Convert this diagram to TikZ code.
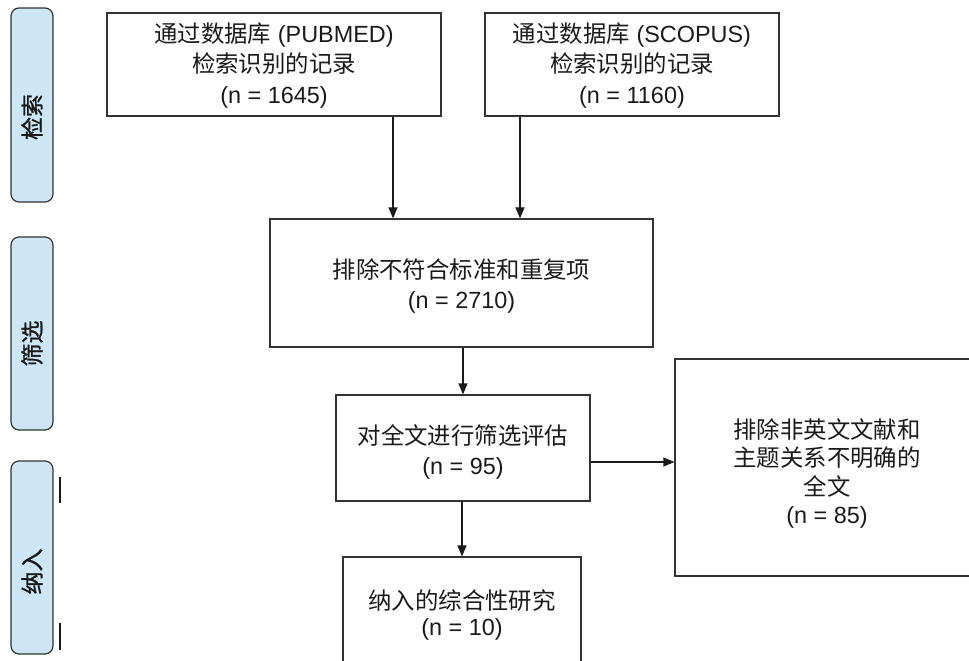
\documentclass[tikz,border=0pt]{standalone}
\usepackage{fontspec}
\setmainfont{Liberation Sans}
\newfontfamily\cjk{Noto Sans CJK SC}
\newfontfamily\cjkheavy[FakeBold=1.2]{Noto Sans CJK SC}
\usetikzlibrary{arrows.meta}
\newcommand\zh[1]{{\cjk #1}}
\definecolor{boxline}{HTML}{333333}
\definecolor{stagefill}{HTML}{CCE6F5}
\definecolor{txt}{HTML}{1A1A1A}

\begin{document}
\begin{tikzpicture}[x=1bp,y=-1bp,
  box/.style={draw=boxline, line width=1.2bp, inner sep=0pt},
  boxtext/.style={align=center, text=txt, inner sep=0pt,
    font=\fontsize{23.5}{30.5}\selectfont},
  stage/.style={draw=boxline, fill=stagefill, line width=1.2bp, rounded corners=8bp,
    rotate=90, minimum height=42bp, inner sep=0pt},
  stagetext/.style={rotate=90, text=txt, inner sep=0pt,
    font=\fontsize{23}{26}\selectfont\cjkheavy},
  arr/.style={draw=txt, line width=1.2bp, -{Triangle[length=11bp,width=9bp]}},
  tick/.style={draw=txt, line width=1.8bp}]

\useasboundingbox (0,0) rectangle (969,661);
\clip (0,0) rectangle (969,661);

% stage bars on the left, with their labels
\node[stage, minimum width=194bp] (s1) at (32,105)   {};
\node[stage, minimum width=193bp] (s2) at (32,333.5) {};
\node[stage, minimum width=193bp] (s3) at (32,557.5) {};
\node[stagetext] (t1) at ([yshift=-12bp]s1.center) {检索};
\node[stagetext] (t2) at ([yshift=-10bp]s2.center) {筛选};
\node[stagetext] (t3) at ([yshift=-14bp]s3.center) {纳入};

% short marks beside the last stage
\coordinate (m1a) at (60,477); \coordinate (m1b) at (60,503);
\coordinate (m2a) at (60,623); \coordinate (m2b) at (60,650);
\draw[tick] (m1a) -- (m1b);
\draw[tick] (m2a) -- (m2b);

% flow boxes
\node[box, minimum width=334bp, minimum height=103bp] (p1) at (274,64.5) {};
\node[box, minimum width=294bp, minimum height=103bp] (p2) at (632,64.5) {};
\node[box, minimum width=383bp, minimum height=128bp] (p3) at (461.5,283) {};
\node[box, minimum width=254bp, minimum height=106bp] (p4) at (463,448) {};
\node[box, minimum width=304bp, minimum height=217bp] (p5) at (827,467.5) {};
\node[box, minimum width=238bp, minimum height=116bp] (p6) at (462,615) {};

% box texts
\node[boxtext] (p1t) at ([yshift=-1bp]p1.center)
  {\zh{通过数据库} (PUBMED)\\ \zh{检索识别的记录}\\ (n = 1645)};
\node[boxtext] (p2t) at ([yshift=-1bp]p2.center)
  {\zh{通过数据库} (SCOPUS)\\ \zh{检索识别的记录}\\ (n = 1160)};
\node[boxtext] (p3t) at ([yshift=-3bp]p3.center)
  {\zh{排除不符合标准和重复项}\\ (n = 2710)};
\node[boxtext, font=\fontsize{23.5}{29.5}\selectfont] (p4t) at ([yshift=-4bp]p4.center)
  {\zh{对全文进行筛选评估}\\ (n = 95)};
\node[boxtext, font=\fontsize{23.5}{28.5}\selectfont] (p5t) at ([yshift=-6bp]p5.center)
  {\zh{排除非英文文献和}\\ \zh{主题关系不明确的}\\ \zh{全文}\\ (n = 85)};
\node[boxtext, font=\fontsize{23.5}{26}\selectfont] (p6t) at ([yshift=0bp]p6.center)
  {\zh{纳入的综合性研究}\\ (n = 10)};

% connectors
\coordinate (c1) at (393,0);
\coordinate (c2) at (520,0);
\coordinate (c3) at (0,462);
\draw[arr] (p1.south -| c1) -- (p3.north -| c1);
\draw[arr] (p2.south -| c2) -- (p3.north -| c2);
\draw[arr] (p3.south -| p4.north) -- (p4.north);
\draw[arr] (p4.east |- c3) -- (p5.west |- c3);
\draw[arr] (p4.south -| p6.north) -- (p6.north);
\end{tikzpicture}
\end{document}
